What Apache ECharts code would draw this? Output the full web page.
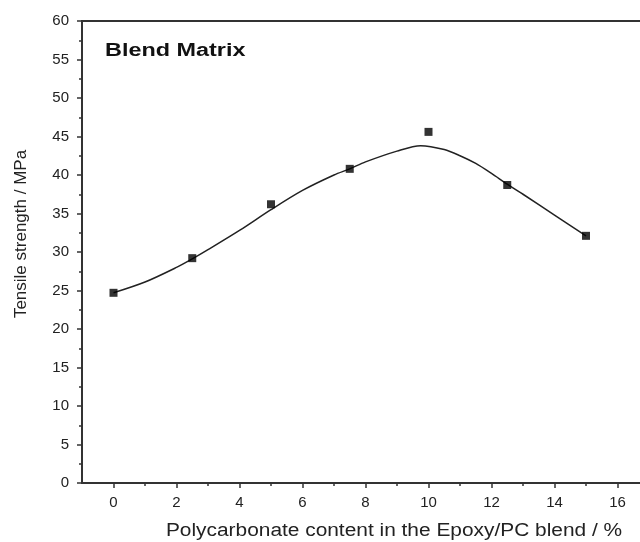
<!DOCTYPE html>
<html>
<head>
<meta charset="utf-8">
<script src="https://cdn.jsdelivr.net/npm/echarts@6/dist/echarts.min.js"></script>
<style>
  html, body { margin: 0; padding: 0; background: #fff; overflow: hidden; }
  /* plot runs past the right edge of the window, like the cropped original */
  #main { width: 649px; height: 542px; }
</style>
</head>
<body>
<div id="main"></div>
<script>
// measured points
var pcContent = [0, 2.5, 5, 7.5, 10, 12.5, 15];
var strength = [24.7, 29.2, 36.2, 40.8, 45.6, 38.7, 32.1];

// fitted curve
var fitX = [0, 1, 2, 2.5, 3, 4, 5, 6, 7, 7.5, 8, 9, 9.75, 10.5, 11, 11.5, 12, 12.5, 13, 14, 15];
var fitY = [24.7, 26.1, 28.0, 29.1, 30.3, 32.8, 35.5, 38.0, 40.0, 40.8, 41.7, 43.1, 43.8, 43.3, 42.5, 41.5, 40.2, 38.8, 37.5, 34.8, 32.1];

var xMajor = [0, 2, 4, 6, 8, 10, 12, 14, 16];
var xMinor = [1, 3, 5, 7, 9, 11, 13, 15];

var font = '"Liberation Sans", Arial, sans-serif';

var chart = echarts.init(document.getElementById('main'), null, { renderer: 'canvas' });

function zip(a, b) {
  return a.map(function (v, i) { return [v, b[i]]; });
}

var option = {
  animation: false,
  backgroundColor: '#fff',
  grid: {
    left: 82, top: 21, bottom: 59, right: 0,
    show: true, borderColor: '#333', borderWidth: 2
  },
  xAxis: [{
    type: 'value', min: -1, max: 17, interval: 1,
    axisLine: { show: true, onZero: false, lineStyle: { color: '#333', width: 2 } },
    axisTick: { show: true, customValues: xMajor, length: 5, lineStyle: { color: '#333', width: 1.5 } },
    axisLabel: { customValues: xMajor, color: '#222', fontSize: 15, fontFamily: font, margin: 12 },
    splitLine: { show: false }
  }, {
    type: 'value', min: -1, max: 17, interval: 1, position: 'bottom',
    axisLine: { show: false, onZero: false },
    axisTick: { show: true, customValues: xMinor, length: 3, lineStyle: { color: '#333', width: 1.5 } },
    axisLabel: { show: false },
    splitLine: { show: false }
  }],
  yAxis: {
    type: 'value', min: 0, max: 60, interval: 5,
    axisLine: { show: true, onZero: false, lineStyle: { color: '#333', width: 2 } },
    axisTick: { show: true, length: 5, lineStyle: { color: '#333', width: 1.5 } },
    minorTick: { show: true, splitNumber: 2, length: 3, lineStyle: { color: '#333', width: 1.5 } },
    axisLabel: { color: '#222', fontSize: 15, fontFamily: font, margin: 13 },
    splitLine: { show: false }
  },
  graphic: [{
    type: 'text', x: 105, y: 51, scaleX: 1.3,
    style: { text: 'Blend Matrix', font: 'bold 18px ' + font, fill: '#111', align: 'left', verticalAlign: 'middle' }
  }, {
    type: 'text', x: 394, y: 531, scaleX: 1.16,
    style: { text: 'Polycarbonate content in the Epoxy/PC blend / %', font: '18px ' + font, fill: '#222', align: 'center', verticalAlign: 'middle' }
  }, {
    type: 'text', x: 21, y: 234, rotation: Math.PI / 2,
    style: { text: 'Tensile strength / MPa', font: '17px ' + font, fill: '#222', align: 'center', verticalAlign: 'middle' }
  }],
  series: [{
    type: 'line',
    data: zip(fitX, fitY),
    smooth: 0.3,
    showSymbol: false,
    lineStyle: { color: '#222', width: 1.5 },
    z: 2
  }, {
    type: 'scatter',
    data: zip(pcContent, strength),
    symbol: 'rect',
    symbolSize: 8,
    itemStyle: { color: '#000' },
    z: 3
  }]
};

chart.setOption(option);
</script>
</body>
</html>
